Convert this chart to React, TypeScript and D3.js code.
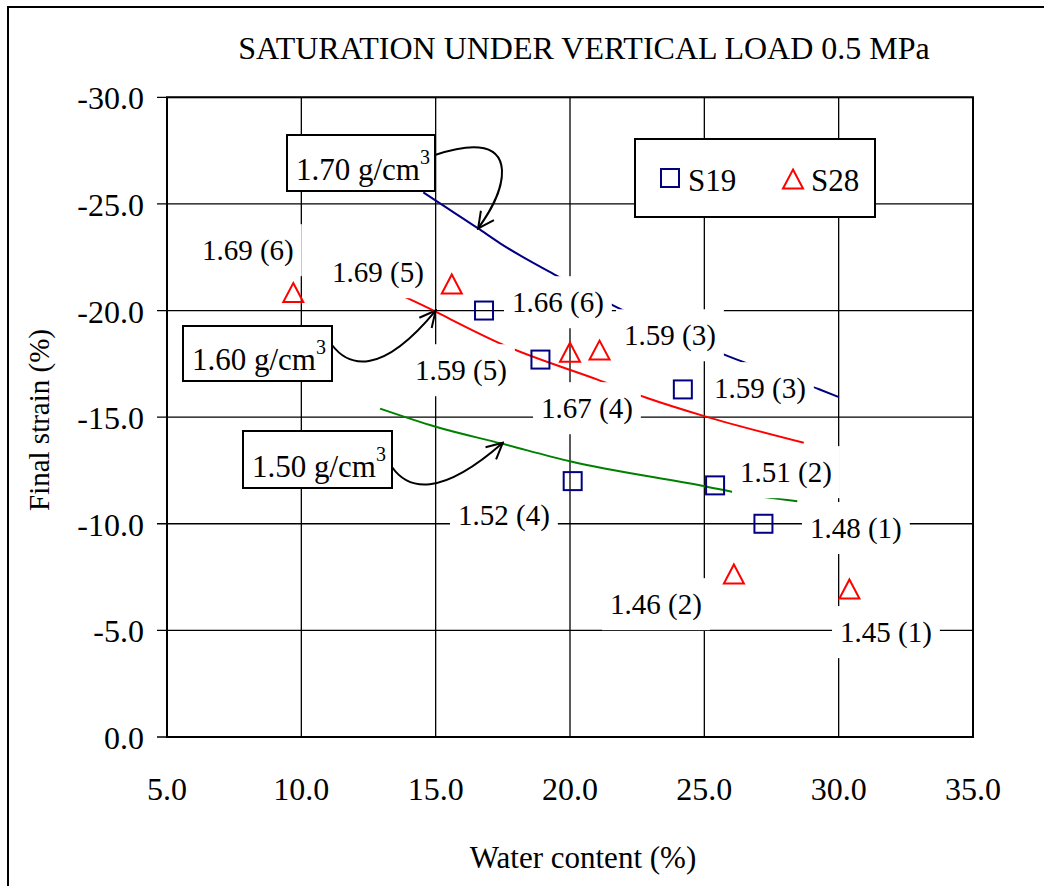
import React from "react";
import * as d3 from "d3";

// Measured samples: water content (%) vs final strain (%)
const s19Water = [16.8, 18.9, 20.1, 24.2, 25.4, 27.2];
const s19Strain = [-20.0, -17.7, -12.0, -16.3, -11.8, -10.0];
const s28Water = [9.7, 15.6, 20.0, 21.1, 26.1, 30.4];
const s28Strain = [-20.8, -21.2, -18.0, -18.1, -7.6, -6.9];

// Iso-density curves
const curve170: [number, number][] = [
  [14.54, -25.54], [15.02, -25.14], [16.58, -23.85], [17.4, -23.15], [19.48, -21.65],
  [21.75, -20.15], [25.88, -17.86], [29.27, -16.31], [30.01, -15.94],
];
const curve160: [number, number][] = [
  [13.75, -20.7], [15.0, -19.95], [15.54, -19.6], [17.5, -18.4], [21.05, -16.75],
  [22.87, -15.9], [25.0, -15.05], [28.7, -13.8],
];
const curve150: [number, number][] = [
  [12.93, -15.4], [15.0, -14.55], [17.46, -13.76], [20.0, -12.93], [25.0, -11.76],
  [26.45, -11.4], [28.46, -11.06],
];

// Point annotations: text and anchor (data coordinates)
const pointLabels = ["1.69 (6)", "1.69 (5)", "1.59 (5)", "1.66 (6)", "1.59 (3)", "1.59 (3)", "1.67 (4)", "1.51 (2)", "1.48 (1)", "1.46 (2)", "1.45 (1)", "1.52 (4)"];
const pointLabelX = [8.01, 12.85, 15.94, 19.55, 23.72, 27.07, 20.63, 28.04, 30.64, 23.2, 31.76, 17.54];
const pointLabelY = [-22.83, -21.8, -17.2, -20.39, -18.84, -16.36, -15.42, -12.42, -9.8, -6.23, -4.92, -10.41];

const xTicks = [5, 10, 15, 20, 25, 30, 35];
const yTicks = [0, -5, -10, -15, -20, -25, -30];

const W = 1044;
const H = 886;
const FONT = "'Liberation Serif', 'Times New Roman', serif";

const x = d3.scaleLinear().domain([5, 35]).range([167, 973]);
const y = d3.scaleLinear().domain([0, -30]).range([737, 97.3]);

const line = d3
  .line<[number, number]>()
  .x((d) => x(d[0]))
  .y((d) => y(d[1]))
  .curve(d3.curveMonotoneX);

const LABEL_FS = 29;
const charW: Record<string, number> = { ".": 0.25, " ": 0.25, "(": 0.333, ")": 0.333 };
const textWidth = (s: string, fs: number) =>
  s.split("").reduce((a, c) => a + (charW[c] ?? 0.5), 0) * fs;

function DensityBox({ bx, by, bw, bh, value }: { bx: number; by: number; bw: number; bh: number; value: string }) {
  return (
    <g>
      <rect x={bx} y={by} width={bw} height={bh} fill="#fff" stroke="#000" strokeWidth={2} />
      <text x={bx + 9} y={by + bh - 11} fontSize={31} fontFamily={FONT}>
        {value} g/cm
        <tspan dy={-16} fontSize={20}>3</tspan>
      </text>
    </g>
  );
}

export default function App() {
  const tri = (cx: number, cy: number) => {
    const h = 19, w = 20;
    return `M${cx},${cy - h * 0.55}L${cx + w / 2},${cy + h * 0.45}L${cx - w / 2},${cy + h * 0.45}Z`;
  };

  return (
    <svg width={W} height={H} style={{ position: "absolute", left: 0, top: 0, background: "#fff" }}>
      <defs>
        <marker id="arrowOpen" viewBox="0 0 20 20" refX={18} refY={10} markerWidth={20} markerHeight={20} markerUnits="userSpaceOnUse" orient="auto">
          <path d="M2,2 L18,10 L2,18" fill="none" stroke="#000" strokeWidth={2} />
        </marker>
      </defs>
      <rect x={0} y={0} width={W} height={H} fill="#fff" />
      {/* outer frame */}
      <rect x={8} y={7} width={W + 20} height={H + 20} fill="none" stroke="#000" strokeWidth={2} />

      <text x={584} y={59} textAnchor="middle" fontSize={32} fontFamily={FONT}>
        SATURATION UNDER VERTICAL LOAD 0.5 MPa
      </text>

      {/* grid */}
      {xTicks.map((t) => (
        <line key={"gx" + t} x1={x(t)} x2={x(t)} y1={y(-30)} y2={y(0)} stroke="#000" strokeWidth={1.3} />
      ))}
      {yTicks.map((t) => (
        <line key={"gy" + t} x1={x(5) - 10} x2={x(35)} y1={y(t)} y2={y(t)} stroke="#000" strokeWidth={1.3} />
      ))}
      <rect x={x(5)} y={y(-30)} width={x(35) - x(5)} height={y(0) - y(-30)} fill="none" stroke="#000" strokeWidth={2} />

      {/* tick labels */}
      {yTicks.map((t) => (
        <text key={"ly" + t} x={144} y={y(t) + 12} textAnchor="end" fontSize={32} fontFamily={FONT}>
          {t.toFixed(1)}
        </text>
      ))}
      {xTicks.map((t) => (
        <text key={"lx" + t} x={x(t)} y={800} textAnchor="middle" fontSize={32} fontFamily={FONT}>
          {t.toFixed(1)}
        </text>
      ))}

      <text x={583} y={868} textAnchor="middle" fontSize={31} fontFamily={FONT}>
        Water content (%)
      </text>
      <text transform="translate(49,420) rotate(-90)" textAnchor="middle" fontSize={29} fontFamily={FONT}>
        Final strain (%)
      </text>

      {/* iso-density curves */}
      <path d={line(curve170) ?? ""} fill="none" stroke="#000080" strokeWidth={2} />
      <path d={line(curve160) ?? ""} fill="none" stroke="#ff0000" strokeWidth={2} />
      <path d={line(curve150) ?? ""} fill="none" stroke="#008000" strokeWidth={2} />

      {/* point annotations with white backing */}
      {pointLabels.map((s, i) => {
        const cx = x(pointLabelX[i]);
        const cy = y(pointLabelY[i]);
        const tw = textWidth(s, LABEL_FS);
        return (
          <g key={"pl" + i}>
            <rect x={cx - tw / 2 - 8} y={cy - 26} width={tw + 16} height={52} fill="#fff" />
            <text x={cx} y={cy + 10} textAnchor="middle" fontSize={LABEL_FS} fontFamily={FONT}>
              {s}
            </text>
          </g>
        );
      })}

      {/* markers */}
      {s19Water.map((w, i) => (
        <rect key={"s19" + i} x={x(w) - 9} y={y(s19Strain[i]) - 9} width={18} height={18} fill="none" stroke="#000080" strokeWidth={2} />
      ))}
      {s28Water.map((w, i) => (
        <path key={"s28" + i} d={tri(x(w), y(s28Strain[i]))} fill="none" stroke="#ff0000" strokeWidth={2} />
      ))}

      {/* density call-outs */}
      <DensityBox bx={287} by={135} bw={148} bh={56} value="1.70" />
      <DensityBox bx={183} by={326} bw={149} bh={55} value="1.60" />
      <DensityBox bx={243} by={431} bw={149} bh={57} value="1.50" />
      <path
        d={`M435,155 C465,145 500,140 502,170 C503,192 ${x(16.58) + 10},${y(-23.85) - 14} ${x(16.58)},${y(-23.85)}`}
        fill="none" stroke="#000" strokeWidth={2} markerEnd="url(#arrowOpen)"
      />
      <path
        d={`M332,345 C348,366 380,378 ${x(15)},${y(-20)}`}
        fill="none" stroke="#000" strokeWidth={2} markerEnd="url(#arrowOpen)"
      />
      <path
        d={`M392,467 C408,490 440,498 ${x(17.5)},${y(-13.8)}`}
        fill="none" stroke="#000" strokeWidth={2} markerEnd="url(#arrowOpen)"
      />

      {/* legend */}
      <rect x={635} y={139} width={240} height={78} fill="#fff" stroke="#000" strokeWidth={2} />
      <rect x={661} y={169} width={18} height={18} fill="none" stroke="#000080" strokeWidth={2} />
      <text x={688} y={191} fontSize={31} fontFamily={FONT}>S19</text>
      <path d={tri(793, 180)} fill="none" stroke="#ff0000" strokeWidth={2} />
      <text x={811} y={191} fontSize={31} fontFamily={FONT}>S28</text>
    </svg>
  );
}
